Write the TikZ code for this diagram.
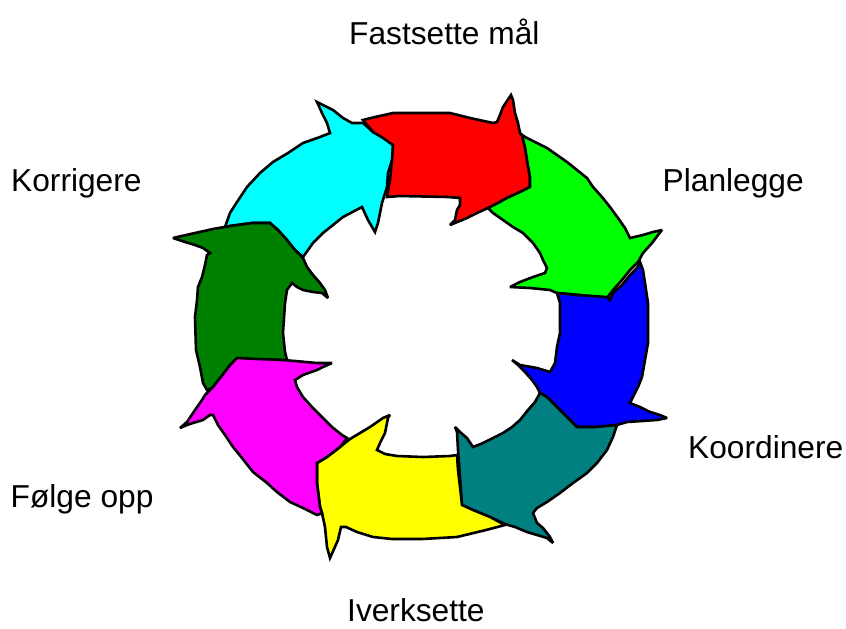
\documentclass[tikz,border=0pt]{standalone}
\usepackage{fontspec}
\setmainfont{Liberation Sans}
\definecolor{cCyan}{RGB}{0,255,255}
\definecolor{cRed}{RGB}{255,0,0}
\definecolor{cGreen}{RGB}{0,255,0}
\definecolor{cBlue}{RGB}{0,0,255}
\definecolor{cTeal}{RGB}{0,128,128}
\definecolor{cYellow}{RGB}{255,255,0}
\definecolor{cMagenta}{RGB}{255,0,255}
\definecolor{cDkGreen}{RGB}{0,128,0}
\tikzset{
  arrowpart/.style={draw=black, line width=2.6pt, line join=miter, miter limit=3},
  lbl/.style={anchor=base west, inner sep=0pt, font=\fontsize{31.7}{38}\selectfont}
}
\begin{document}
\begin{tikzpicture}[x=1pt,y=-1pt]
\useasboundingbox (0,0) rectangle (846,629);
\fill[white] (0,0) rectangle (846,629);
% cyan
\filldraw[arrowpart, fill=cCyan] (225,227)--(230,213)--(237,202)--(247,187)--(260,173)--(273,162)--(288,153)--(303,143)--(320,137)--(330,133)--(327,123)--(322,113)--(317,102)--(323,105)--(333,110)--(343,118)--(352,123)--(363,123)--(373,132)--(383,137)--(393,145)--(393,157)--(388,173)--(387,187)--(382,203)--(378,223)--(375,232)--(368,220)--(362,207)--(343,217)--(323,233)--(313,243)--(303,257)--(295,250)--(287,240)--(278,230)--(270,223)--(252,223)--(230,226)--cycle;
% red
\filldraw[arrowpart, fill=cRed] (363,120)--(375,117)--(393,113)--(450,113)--(470,118)--(493,123)--(497,122)--(500,115)--(503,107)--(511,95)--(513,100)--(515,113)--(518,123)--(520,133)--(522,135)--(525,147)--(527,160)--(530,177)--(530,187)--(520,192)--(507,198)--(498,203)--(488,208)--(477,213)--(467,218)--(450,225)--(455,220)--(457,210)--(460,205)--(460,198)--(448,197)--(400,196)--(387,197)--(390,180)--(392,160)--(393,145)--(383,138)--(373,132)--cycle;
% green
\filldraw[arrowpart, fill=cGreen] (522,135)--(527,138)--(537,143)--(547,148)--(557,155)--(567,162)--(577,170)--(587,178)--(593,187)--(602,197)--(610,207)--(618,218)--(625,228)--(630,238)--(643,235)--(653,232)--(662,230)--(658,235)--(652,243)--(643,253)--(638,262)--(630,270)--(622,280)--(613,290)--(607,298)--(580,295)--(557,293)--(550,290)--(530,288)--(510,287)--(520,282)--(533,277)--(545,273)--(547,268)--(543,260)--(540,253)--(533,243)--(523,233)--(513,227)--(503,220)--(493,213)--(488,208)--(498,203)--(507,198)--(520,192)--(530,187)--(530,177)--(527,160)--(525,147)--cycle;
% blue
\filldraw[arrowpart, fill=cBlue] (557,293)--(577,295)--(607,297)--(610,300)--(613,293)--(622,285)--(630,275)--(637,268)--(640,262)--(643,270)--(645,283)--(648,303)--(648,343)--(645,360)--(642,377)--(638,387)--(633,397)--(630,403)--(640,407)--(650,412)--(660,415)--(667,418)--(657,420)--(627,422)--(617,425)--(595,427)--(577,427)--(573,423)--(563,413)--(555,405)--(547,397)--(540,393)--(537,387)--(532,380)--(525,372)--(518,365)--(512,360)--(520,365)--(537,368)--(550,372)--(555,363)--(557,347)--(560,333)--(560,303)--cycle;
% teal
\filldraw[arrowpart, fill=cTeal] (455,427)--(460,432)--(467,438)--(473,447)--(483,443)--(493,438)--(503,433)--(512,427)--(520,420)--(528,410)--(535,402)--(540,393)--(547,397)--(555,405)--(563,413)--(573,423)--(577,427)--(595,427)--(617,425)--(613,437)--(607,450)--(597,463)--(587,473)--(573,483)--(560,493)--(547,502)--(537,508)--(533,513)--(537,523)--(543,528)--(550,537)--(553,543)--(547,538)--(537,535)--(527,532)--(515,527)--(505,524)--(490,517)--(473,510)--(462,505)--(460,477)--(458,450)--(457,432)--cycle;
% yellow
\filldraw[arrowpart, fill=cYellow] (390,415)--(388,418)--(385,433)--(380,443)--(377,450)--(385,454)--(397,456)--(423,457)--(450,456)--(457,455)--(458,470)--(460,487)--(462,505)--(473,510)--(490,517)--(505,525)--(486,530)--(457,537)--(422,539)--(392,539)--(373,537)--(357,532)--(346,527)--(341,527)--(338,540)--(330,558)--(327,547)--(325,527)--(322,513)--(320,507)--(317,483)--(317,463)--(327,457)--(340,447)--(350,439)--(360,433)--(370,427)--(383,418)--cycle;
% magenta
\filldraw[arrowpart, fill=cMagenta] (237,357)--(257,358)--(295,361)--(317,363)--(332,363)--(323,367)--(317,370)--(303,375)--(295,380)--(297,387)--(303,397)--(312,407)--(322,417)--(332,427)--(342,435)--(347,438)--(340,447)--(327,457)--(317,463)--(317,483)--(320,507)--(322,513)--(317,515)--(303,508)--(290,502)--(277,492)--(267,483)--(253,472)--(242,458)--(233,447)--(225,435)--(218,425)--(213,415)--(210,415)--(203,420)--(193,423)--(187,425)--(180,428)--(187,422)--(195,410)--(202,400)--(205,395)--(212,388)--(220,378)--(230,365)--cycle;
% dark green
\filldraw[arrowpart, fill=cDkGreen] (173,238)--(195,233)--(213,229)--(230,226)--(252,223)--(270,223)--(278,230)--(287,240)--(295,250)--(303,258)--(307,267)--(313,275)--(320,283)--(325,290)--(328,298)--(322,293)--(313,292)--(303,290)--(297,287)--(292,283)--(287,290)--(285,303)--(283,333)--(285,352)--(287,360)--(257,359)--(237,358)--(230,365)--(220,378)--(212,388)--(207,390)--(203,383)--(200,367)--(196,350)--(195,317)--(197,300)--(198,287)--(202,277)--(205,265)--(207,255)--(210,253)--(203,248)--(195,245)--(185,242)--cycle;
% labels
\node[lbl] (fastsette) at (349,44.5) {Fastsette mål};
\node[lbl] (planlegge) at (662.5,191.7) {Planlegge};
\node[lbl] (korrigere) at (11,191.7) {Korrigere};
\node[lbl] (koordinere) at (688,458.3) {Koordinere};
\node[lbl] (folge) at (10.5,507.7) {Følge opp};
\node[lbl] (iverksette) at (347,621.5) {Iverksette};
\end{tikzpicture}
\end{document}
